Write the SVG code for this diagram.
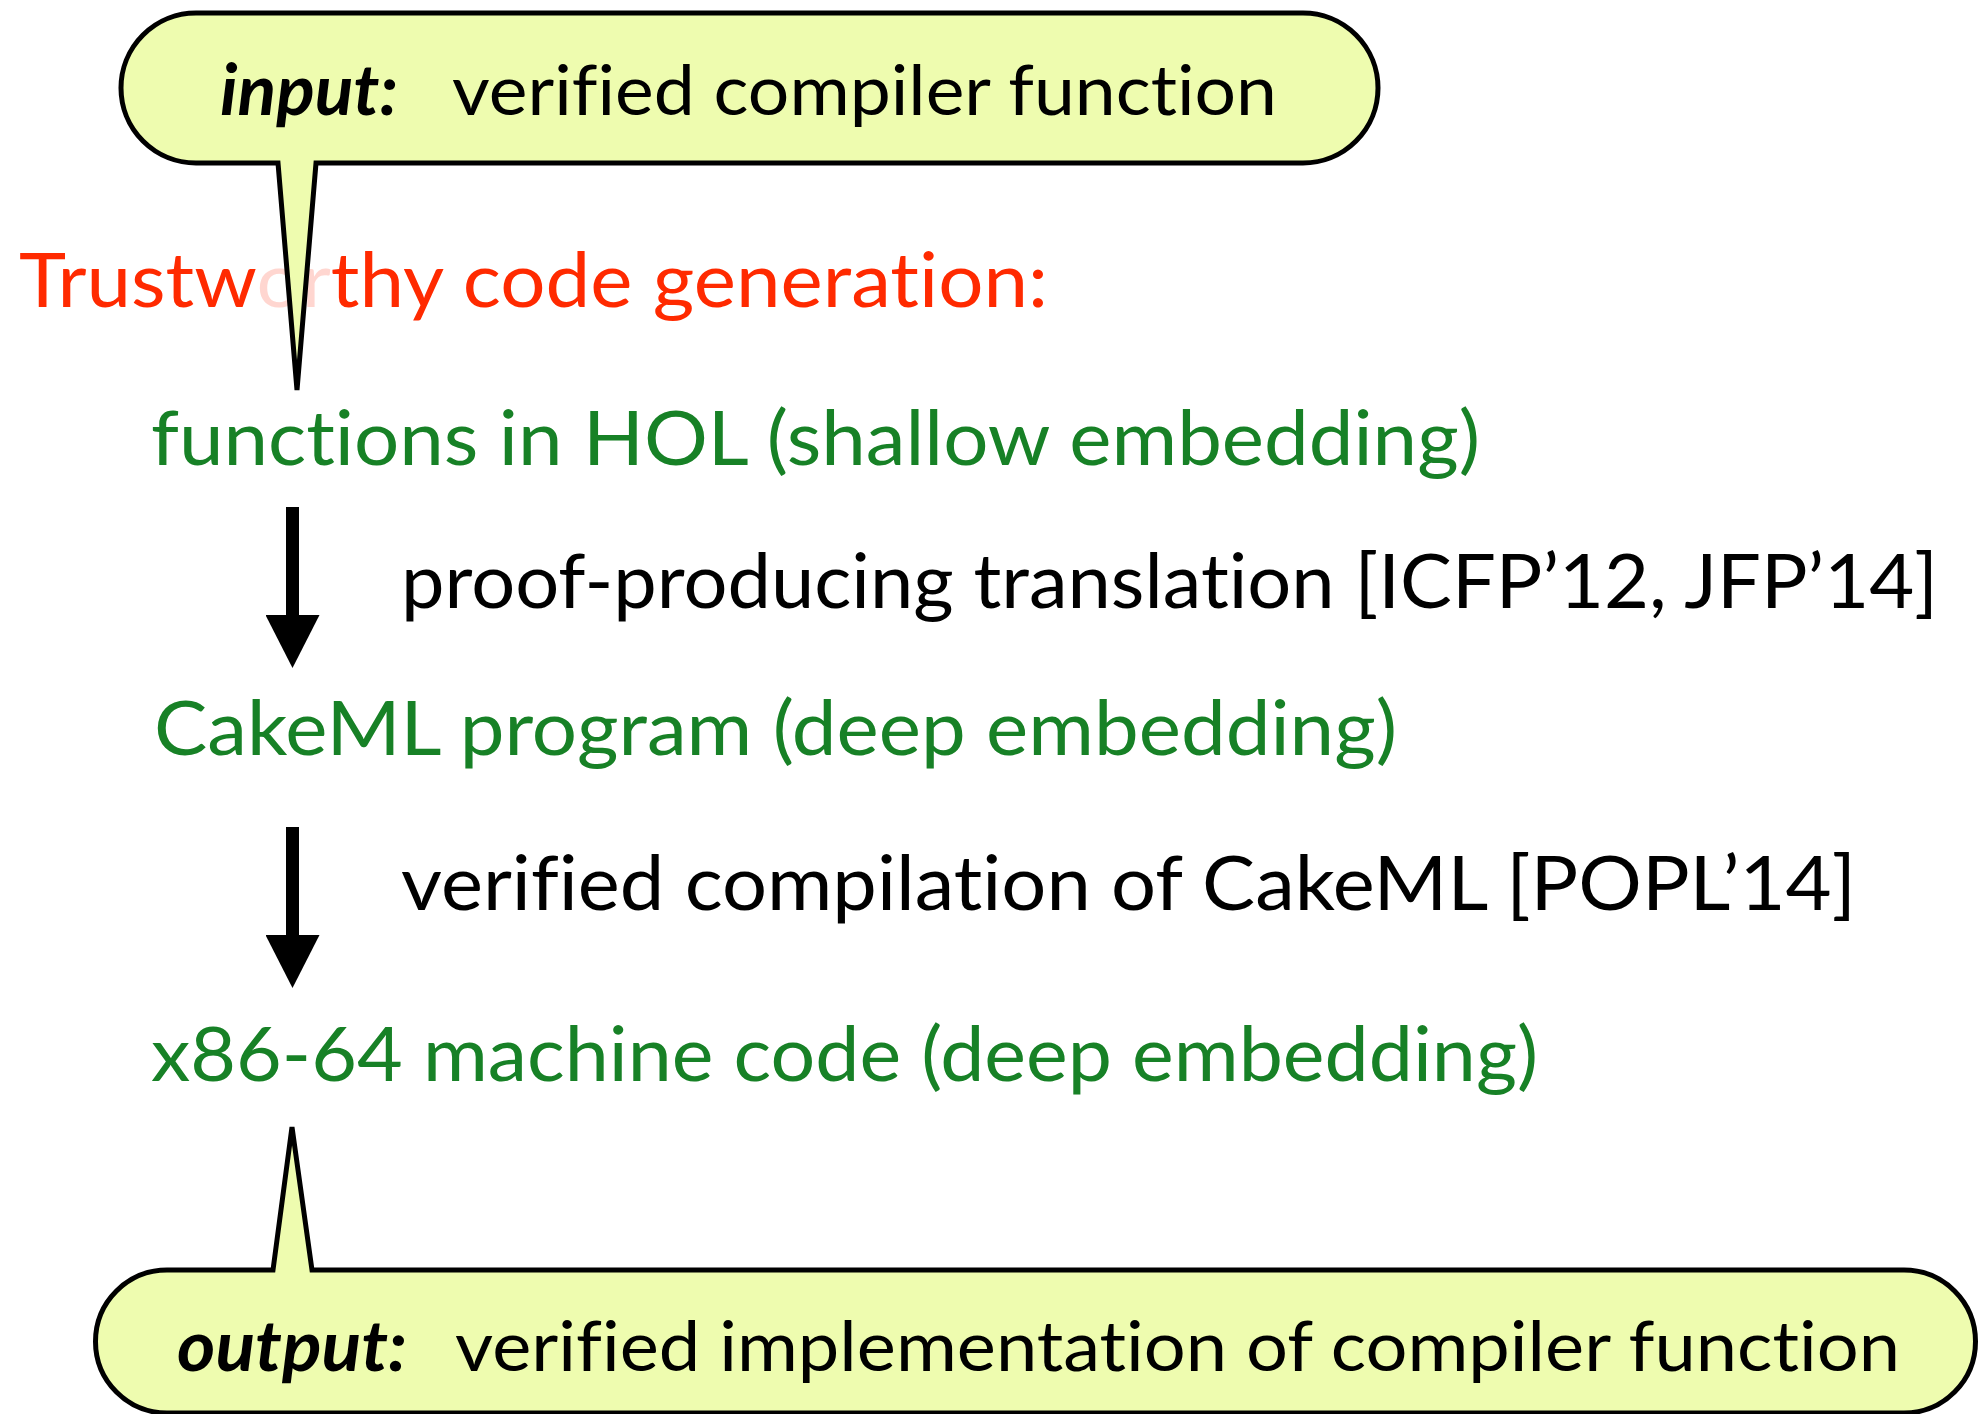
<svg xmlns="http://www.w3.org/2000/svg" width="1979" height="1414" viewBox="0 0 1979 1414">
<style>
  text { font-family: Lato, "Open Sans", "Liberation Sans", sans-serif; font-variant-ligatures: no-common-ligatures; font-feature-settings: "liga" 0, "clig" 0; }
  .callout { fill: #EEFCAF; stroke: #000; stroke-width: 5; stroke-linejoin: miter; }
  .ctext { font-size: 70px; fill: #000; }
  .lab { font-style: italic; font-weight: bold; }
  .title { font-size: 76px; fill: #FF2A00; }
  .faded { fill: #FFD6D0; }
  .green { font-size: 76px; fill: #178126; }
  .black { font-size: 76px; fill: #000; }
  .conn { stroke: #000; stroke-width: 13; fill: none; }
</style>
<defs>
  <marker id="head" markerUnits="userSpaceOnUse" viewBox="0 0 53 54" markerWidth="53" markerHeight="54" refX="0" refY="27" orient="auto">
    <path d="M0,0 L53,27 L0,54 Z" fill="#000"/>
  </marker>
</defs>
<rect x="0" y="0" width="1979" height="1414" fill="#fff"/>

<g id="title">
  <text class="title" x="19" y="307" textLength="1029" lengthAdjust="spacingAndGlyphs">Trustw<tspan class="faded">or</tspan>thy code generation:</text>
</g>

<g id="node-hol">
  <text class="green" x="151" y="465" textLength="1329" lengthAdjust="spacingAndGlyphs">functions in HOL (shallow embedding)</text>
</g>
<g id="node-cakeml">
  <text class="green" x="154" y="755" textLength="1243" lengthAdjust="spacingAndGlyphs">CakeML program (deep embedding)</text>
</g>
<g id="node-x86">
  <text class="green" x="151" y="1081" textLength="1387" lengthAdjust="spacingAndGlyphs">x86-64 machine code (deep embedding)</text>
</g>

<g id="connectors">
  <line class="conn" x1="292.5" y1="507" x2="292.5" y2="615" marker-end="url(#head)"/>
  <text class="black" x="401" y="608" textLength="1537" lengthAdjust="spacingAndGlyphs">proof-producing translation [ICFP’12, JFP’14]</text>
  <line class="conn" x1="292.5" y1="827" x2="292.5" y2="935" marker-end="url(#head)"/>
  <text class="black" x="401" y="910" textLength="1455" lengthAdjust="spacingAndGlyphs">verified compilation of CakeML [POPL’14]</text>
</g>

<g id="callout-input">
  <path class="callout" d="M196 13 H1303 A75 75 0 0 1 1303 163 H316 L297 390 L278 163 H196 A75 75 0 0 1 196 13 Z"/>
  <text class="ctext lab" x="220" y="115" textLength="178" lengthAdjust="spacingAndGlyphs">input:</text>
  <text class="ctext" x="452" y="115" textLength="825" lengthAdjust="spacingAndGlyphs">verified compiler function</text>
</g>

<g id="callout-output">
  <path class="callout" d="M167 1270 H273 L292 1127 L312 1270 H1904 A71.5 71.5 0 0 1 1904 1413 H167 A71.5 71.5 0 0 1 167 1270 Z"/>
  <text class="ctext lab" x="177" y="1371" textLength="230" lengthAdjust="spacingAndGlyphs">output:</text>
  <text class="ctext" x="455" y="1371" textLength="1445" lengthAdjust="spacingAndGlyphs">verified implementation of compiler function</text>
</g>
</svg>
